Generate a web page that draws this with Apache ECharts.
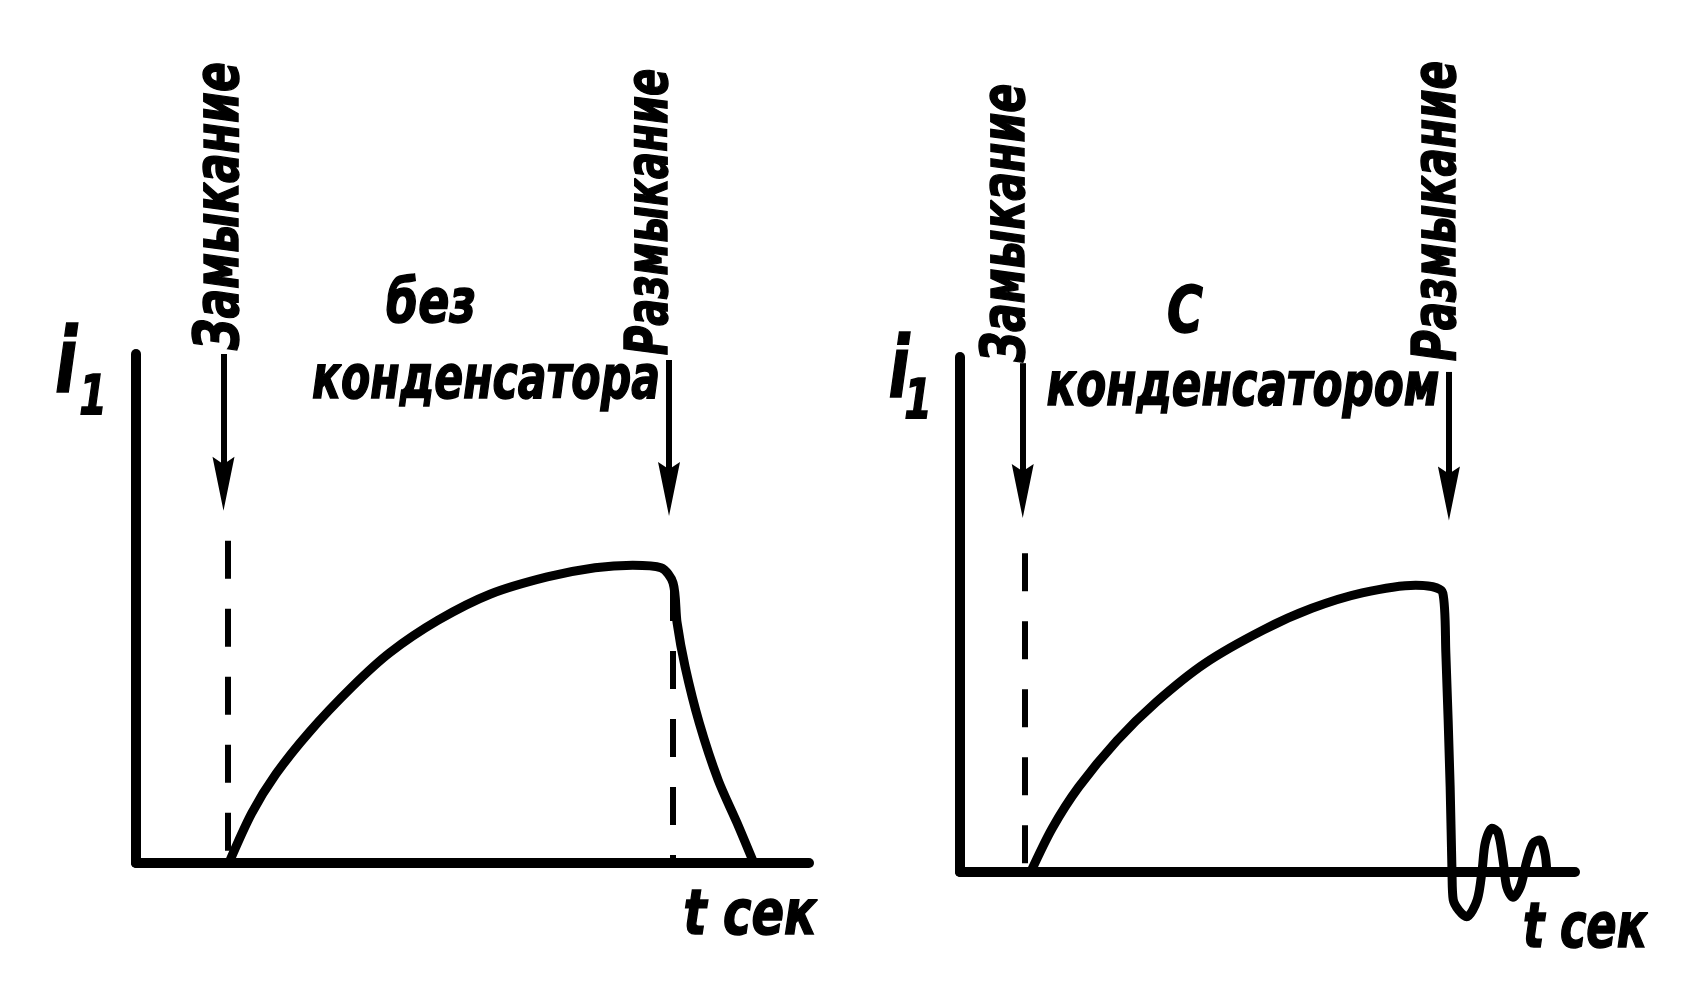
<!DOCTYPE html>
<html>
<head>
<meta charset="utf-8">
<script src="https://cdn.jsdelivr.net/npm/echarts@6/dist/echarts.min.js"></script>
<style>
  html, body { margin: 0; padding: 0; background: #ffffff; }
  #chart { width: 1681px; height: 985px; }
</style>
</head>
<body>
<div id="chart"></div>
<script>
// ---------- DATA ----------
// Left panel: без конденсатора (time units, current units)
const leftT = [1.38, 1.72, 2.08, 2.58, 3.21, 3.77, 4.49, 5.26, 6.11, 6.82, 7.38, 7.80, 7.98, 8.04, 8.16, 8.37, 8.65, 8.93, 9.18];
const leftI = [0.00, 0.98, 1.75, 2.58, 3.46, 4.13, 4.77, 5.28, 5.62, 5.80, 5.85, 5.80, 5.50, 4.72, 3.85, 2.75, 1.63, 0.79, 0.00];
// Right panel: с конденсатором
const rightT = [1.15, 1.50, 1.93, 2.55, 3.19, 3.98, 4.93, 5.72, 6.54, 7.41, 7.85, 7.90, 7.97, 8.00, 8.02, 8.24, 8.41, 8.49, 8.54, 8.65, 8.75, 8.83, 8.89, 8.99, 9.11, 9.22, 9.32, 9.43, 9.51, 9.54];
const rightI = [0.00, 0.85, 1.65, 2.55, 3.30, 4.05, 4.70, 5.12, 5.42, 5.57, 5.42, 4.25, 1.65, 0.00, -0.54, -0.87, -0.54, 0.04, 0.56, 0.85, 0.76, 0.23, -0.29, -0.49, -0.29, 0.23, 0.56, 0.62, 0.37, 0.04];
// Event markers: [arrow time, arrow top, arrowhead centre, dashed-line time, dashed-line top]
const leftClosure  = [1.30, 10.0, 7.45, 1.36, 6.33];
const leftOpening  = [7.92, 9.88, 7.35, 7.98, 5.50];
const rightClosure = [1.02, 9.88, 7.40, 1.06, 6.19];
const rightOpening = [7.95, 9.71, 7.35];
// Axis ranges
const axisMin = 0, axisMax = 10;
// Texts
const closureLabel = 'Замыкание';
const openingLabel = 'Размыкание';
const leftTitle = ['без', 'конденсатора'];
const rightTitle = ['С', 'конденсатором'];
const yName = ['i', '1'];
const xName = 't сек';

// ---------- STYLE ----------
const INK = '#000000';
const FONT = "'DejaVu Sans Condensed', 'Liberation Sans Narrow', 'DejaVu Sans', sans-serif";
const ARROW = 'path://M5,0 L10,22 L5,19 L0,22 Z';

function pairs(xs, ys) { return xs.map((x, i) => [x, ys[i]]); }

function arrowLine(t, top, head) {
  return [
    { coord: [t, top], symbol: 'none', lineStyle: { type: 'solid', width: 6, color: INK } },
    { coord: [t, head], symbol: ARROW, symbolSize: [22, 54] }
  ];
}
function dashLine(t, top) {
  return [
    { coord: [t, top], symbol: 'none', lineStyle: { type: [38, 30], width: 6, color: INK } },
    { coord: [t, 0], symbol: 'none' }
  ];
}

function axisCommon() {
  return {
    type: 'value', min: axisMin, max: axisMax,
    axisLine: { show: true, lineStyle: { color: INK, width: 10, cap: 'round' } },
    axisTick: { show: false }, axisLabel: { show: false }, splitLine: { show: false }
  };
}

function txt(text, x, y, size, rot, sx) {
  return {
    type: 'text', x: x, y: y, rotation: rot || 0, scaleX: sx || 1, silent: true,
    style: {
      text: text, fill: INK, stroke: INK, lineWidth: 1.5,
      fontSize: size, fontFamily: FONT, fontStyle: 'italic', fontWeight: 'bold',
      align: 'center', verticalAlign: 'middle',
      textAlign: 'center', textVerticalAlign: 'middle'
    }
  };
}

const R = Math.PI / 2;

const option = {
  backgroundColor: '#ffffff',
  animation: false,
  grid: [
    { left: 136, top: 354, width: 673, height: 509 },
    { left: 960, top: 357, width: 615, height: 515 }
  ],
  xAxis: [
    Object.assign(axisCommon(), { gridIndex: 0 }),
    Object.assign(axisCommon(), { gridIndex: 1 })
  ],
  yAxis: [
    Object.assign(axisCommon(), { gridIndex: 0 }),
    Object.assign(axisCommon(), { gridIndex: 1 })
  ],
  series: [
    {
      type: 'line', xAxisIndex: 0, yAxisIndex: 0,
      data: pairs(leftT, leftI), smooth: 0.3, showSymbol: false, clip: false,
      lineStyle: { color: INK, width: 9, cap: 'round', join: 'round' },
      markLine: {
        silent: true, animation: false, label: { show: false },
        data: [
          arrowLine(leftClosure[0], leftClosure[1], leftClosure[2]),
          arrowLine(leftOpening[0], leftOpening[1], leftOpening[2]),
          dashLine(leftClosure[3], leftClosure[4]),
          dashLine(leftOpening[3], leftOpening[4])
        ]
      }
    },
    {
      type: 'line', xAxisIndex: 1, yAxisIndex: 1,
      data: pairs(rightT, rightI), smooth: 0.3, showSymbol: false, clip: false,
      lineStyle: { color: INK, width: 9, cap: 'round', join: 'round' },
      markLine: {
        silent: true, animation: false, label: { show: false },
        data: [
          arrowLine(rightClosure[0], rightClosure[1], rightClosure[2]),
          arrowLine(rightOpening[0], rightOpening[1], rightOpening[2]),
          dashLine(rightClosure[3], rightClosure[4])
        ]
      }
    }
  ],
  graphic: [
    // left panel
    txt(closureLabel, 222, 206, 62, R, 0.79),
    txt(openingLabel, 652, 212, 58, R, 0.77),
    txt(leftTitle[0], 431, 306, 60, 0, 0.85),
    txt(leftTitle[1], 486, 382, 60, 0, 0.79),
    txt(yName[0], 66, 369, 90, 0, 0.8),
    txt(yName[1], 93, 400, 55, 0, 0.8),
    txt(xName, 750, 918, 62, 0, 0.86),
    // right panel
    txt(closureLabel, 1008, 223, 60, R, 0.79),
    txt(openingLabel, 1439, 211, 60, R, 0.78),
    txt(rightTitle[0], 1185, 315, 64, 0, 0.85),
    txt(rightTitle[1], 1243, 389, 60, 0, 0.81),
    txt(yName[0], 899, 375, 85, 0, 0.8),
    txt(yName[1], 918, 404, 55, 0, 0.8),
    txt(xName, 1585, 931, 62, 0, 0.8)
  ]
};

const chart = echarts.init(document.getElementById('chart'), null, { renderer: 'canvas' });
chart.setOption(option);
</script>
</body>
</html>
